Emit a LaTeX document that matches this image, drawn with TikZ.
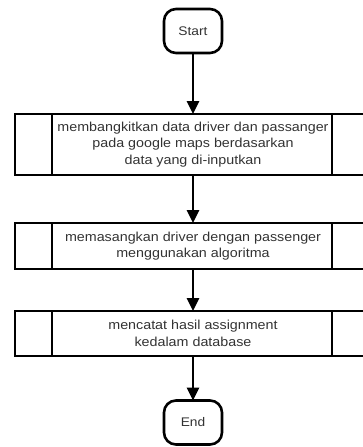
\documentclass[tikz,border=0pt]{standalone}
\usepackage{fontspec}
\setmainfont{Liberation Sans}
\newfontfamily\widesans[FakeStretch=1.1]{Liberation Sans}
\usetikzlibrary{arrows.meta}
\tikzset{
  termbox/.style={draw, line width=2.6pt, rounded corners=12pt, minimum width=58pt, minimum height=44pt, inner sep=0pt, outer sep=0pt, fill=white, font=\widesans\fontsize{12.5}{16}\selectfont, text=black!80},
  procbox/.style={draw, line width=2.8pt, minimum width=356pt, inner sep=0pt, outer sep=0pt, align=center, font=\widesans\fontsize{13}{16.5}\selectfont, text=black!80},
  divider/.style={line width=2.5pt},
  flow/.style={line width=2.6pt, -{Triangle[length=13pt,width=12pt]}}
}
\begin{document}
\begin{tikzpicture}[x=1pt,y=-1pt]
\useasboundingbox (0,0) rectangle (363,447);
\clip (0,0) rectangle (363,447);
\node[termbox] (start) at (193,31) {Start};
\node[procbox, minimum height=61pt] (p1) at (193,144.5) {membangkitkan data driver dan passanger\\pada google maps berdasarkan\\data yang di-inputkan};
\node[procbox, minimum height=46pt] (p2) at (193,246) {memasangkan driver dengan passenger\\menggunakan algoritma};
\node[procbox, minimum height=45pt] (p3) at (193,333.5) {mencatat hasil assignment\\kedalam database};
\node[termbox] (end) at (193,422.5) {End};
\foreach \n in {p1,p2,p3}{
  \draw[divider] ([xshift=37pt]\n.north west) -- ([xshift=37pt]\n.south west);
  \draw[divider] ([xshift=-39pt]\n.north east) -- ([xshift=-39pt]\n.south east);
}
\draw[flow] (start) -- (p1);
\draw[flow] (p1) -- (p2);
\draw[flow] (p2) -- (p3);
\draw[flow] (p3) -- (end);
\end{tikzpicture}
\end{document}
